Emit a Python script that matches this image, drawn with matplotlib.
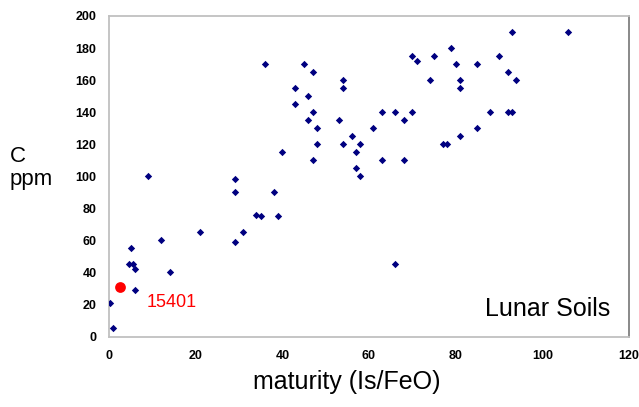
import matplotlib
matplotlib.use("Agg")
import matplotlib.pyplot as plt

plt.rcParams['font.family'] = ['Liberation Sans', 'DejaVu Sans']

# Lunar soils: maturity (Is/FeO) vs carbon (ppm)
maturity = [36, 45, 47, 54, 54, 43, 46, 43, 47, 46, 53, 48, 56, 48, 54, 58, 57, 40, 47, 57, 58, 9, 29,
            93, 106, 79, 70, 71, 75, 80, 85, 90, 92, 94, 74, 81, 81, 63, 66, 70, 68, 88, 92, 93, 61, 85, 81, 77, 78, 63, 68,
            29, 38, 34, 35, 39, 21, 31, 29, 12, 5, 4.5, 5.5, 6, 14, 6, 0.3, 1, 66]
carbon = [170, 170, 165, 160, 155, 155, 150, 145, 140, 135, 135, 130, 125, 120, 120, 120, 115, 115, 110, 105, 100, 100, 98,
          190, 190, 180, 175, 172, 175, 170, 170, 175, 165, 160, 160, 160, 155, 140, 140, 140, 135, 140, 140, 140, 130, 130, 125, 120, 120, 110, 110,
          90, 90, 76, 75, 75, 65, 65, 59, 60, 55, 45, 45, 42, 40, 29, 21, 5, 45]

sample_name = "15401"
sample_maturity = [2.6]
sample_carbon = [31]

x_ticks = [0, 20, 40, 60, 80, 100, 120]
y_ticks = [0, 20, 40, 60, 80, 100, 120, 140, 160, 180, 200]

fig = plt.figure(figsize=(6.39, 4.07), dpi=100)
ax = fig.add_axes([109/639, 1-336.5/407, 520/639, 320.5/407])

ax.scatter(maturity, carbon, marker='D', s=14, color='#000080', linewidths=0, zorder=3)
ax.scatter(sample_maturity, sample_carbon, marker='o', s=60, color='#ff0000', linewidths=0, zorder=4)

ax.set_xlim(0, 120)
ax.set_ylim(0, 200)
ax.set_xticks(x_ticks)
ax.set_yticks(y_ticks)
ax.tick_params(length=0, labelsize=9)
ax.tick_params(axis='y', pad=9)
ax.tick_params(axis='x', pad=9.5)
for lab in ax.get_xticklabels() + ax.get_yticklabels():
    lab.set_fontweight('bold')

for s in ['left', 'top', 'bottom']:
    ax.spines[s].set_color('#c0c0c0')
    ax.spines[s].set_linewidth(1.3)
ax.spines['right'].set_color('#808080')
ax.spines['right'].set_linewidth(1.3)

ax.text(8.7, 21, sample_name, color='#ff0000', fontsize=13, ha='left', va='center')
ax.text(115.6, 17, "Lunar Soils", color='black', fontsize=18, ha='right', va='center')

fig.text(346.5/639, 1-382/407, "maturity (Is/FeO)", fontsize=18, ha='center', va='center')
fig.text(10/639, 1-168/407, "C\nppm", fontsize=16, ha='left', va='center', linespacing=1.1)

fig.savefig("out.png", dpi=100)
